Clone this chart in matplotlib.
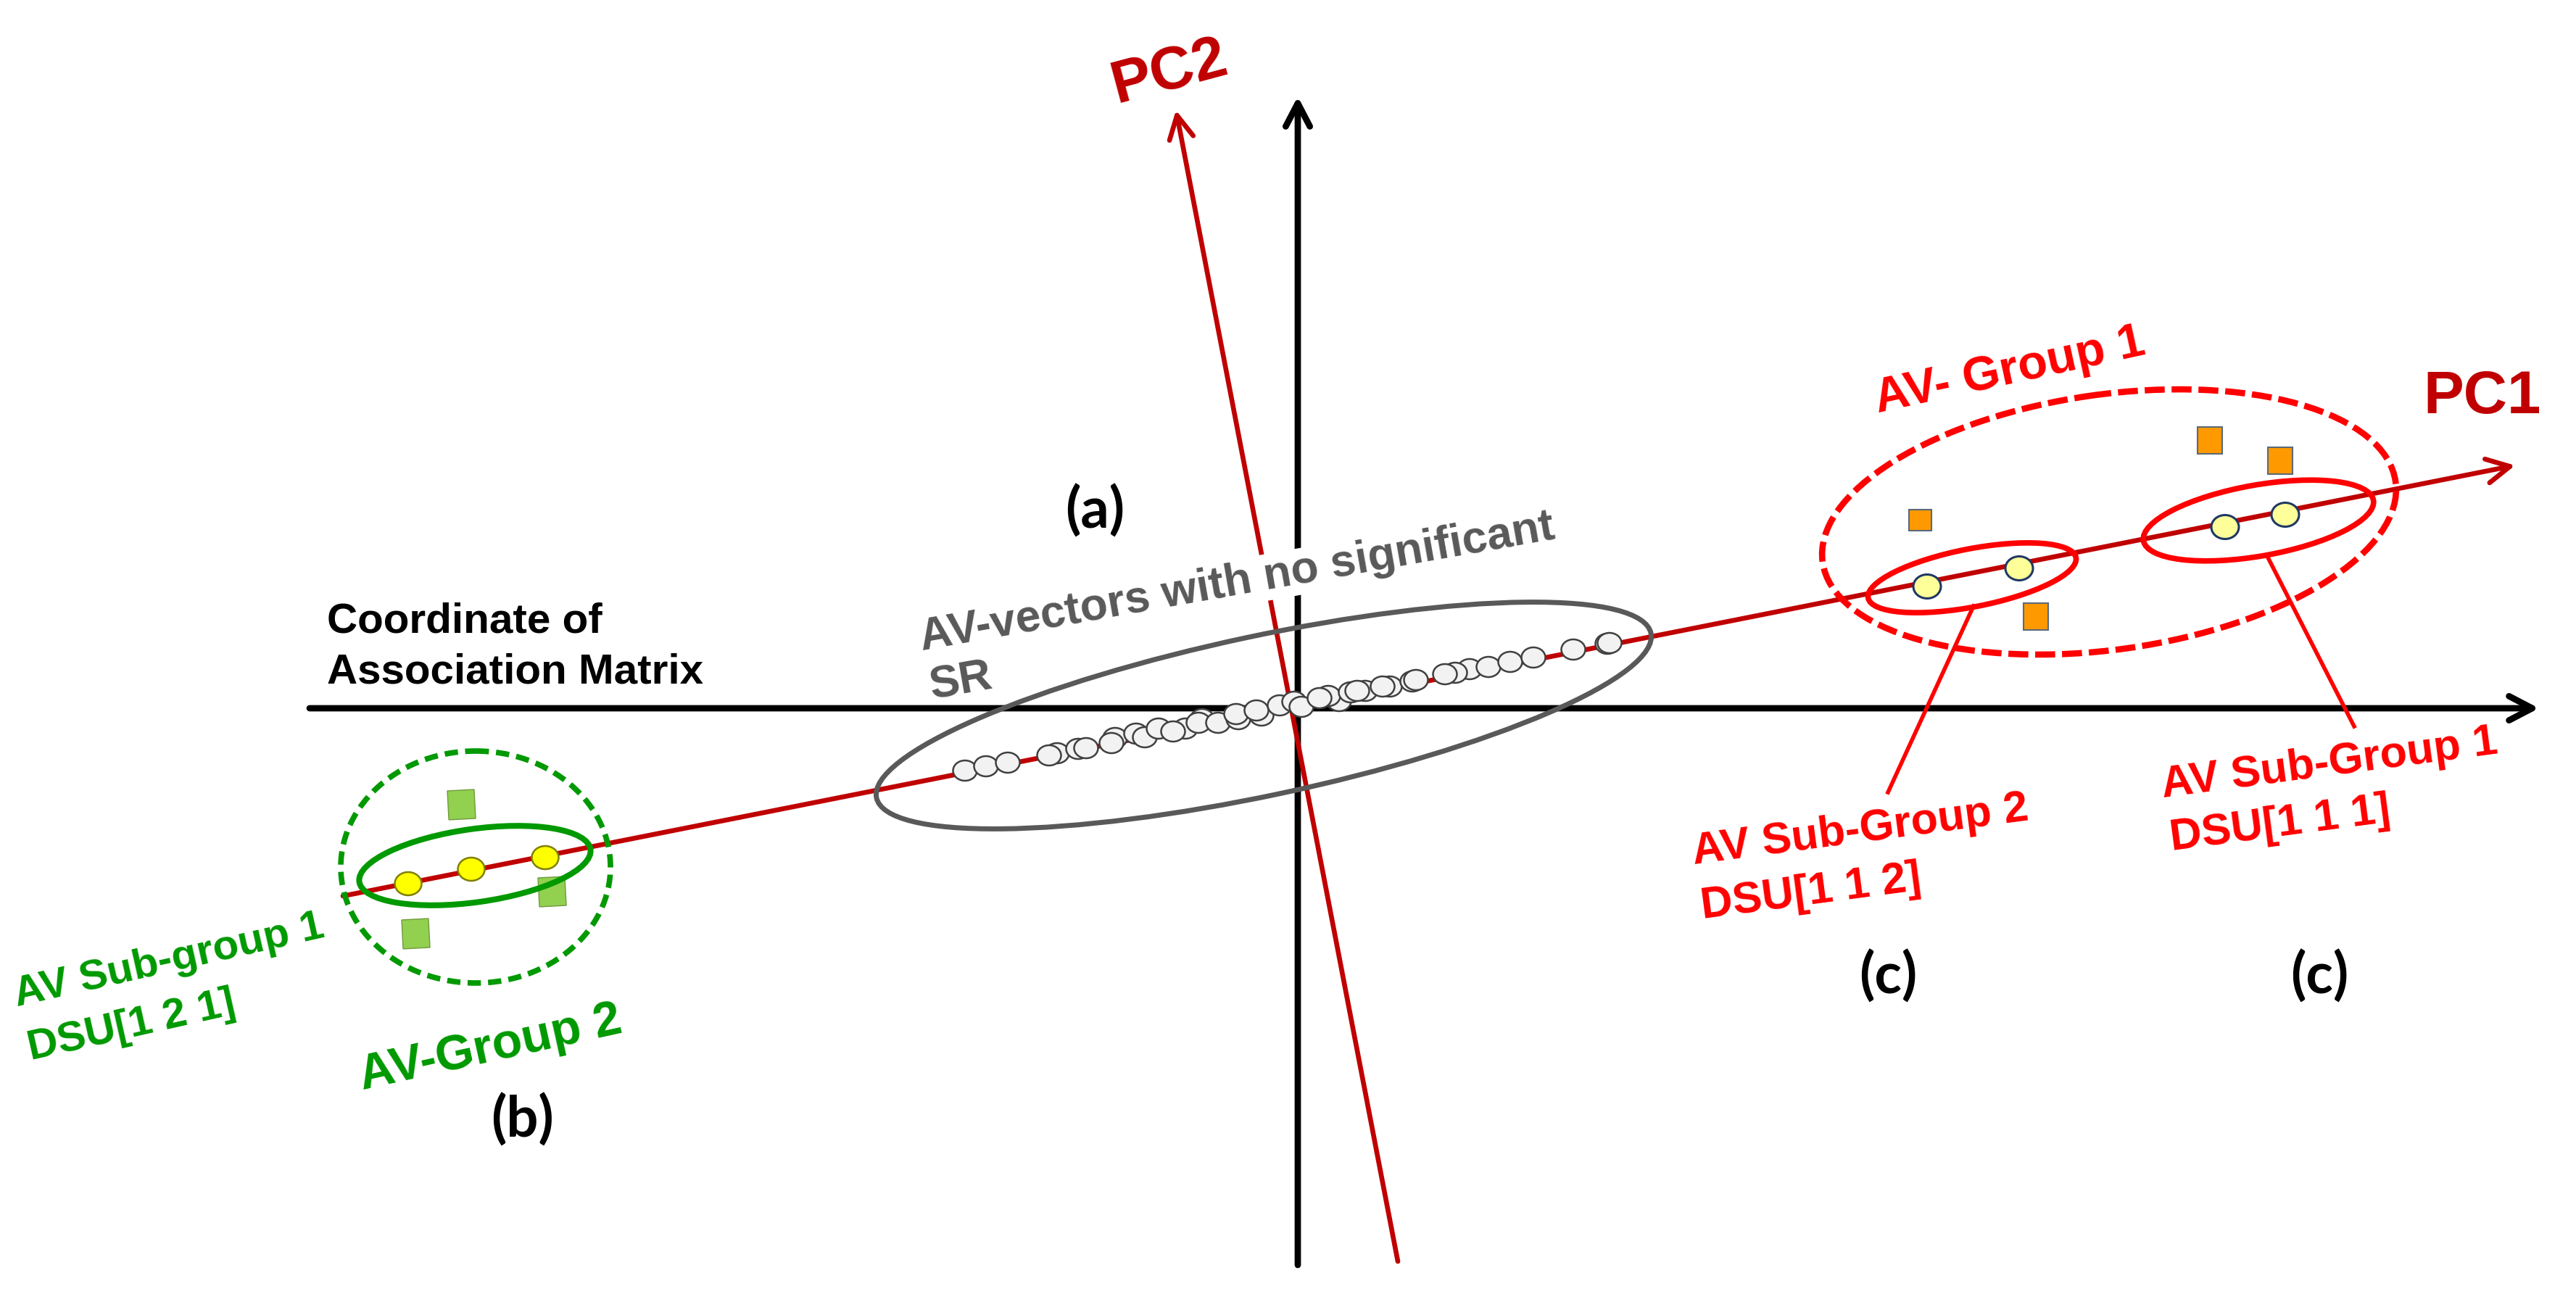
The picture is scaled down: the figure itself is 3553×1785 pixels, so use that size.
import matplotlib
matplotlib.use("Agg")
import matplotlib.pyplot as plt
from matplotlib.patches import Ellipse, Rectangle, FancyArrowPatch

# --- data (pixel frame of the 3553x1785 picture) ---
W, H = 3553, 1785

# axes of the association-matrix frame
xaxis = [(427, 977), (3502, 977)]
yaxis = [(1790, 1745), (1790, 133)]
# principal components
pc1 = [(473, 1236), (3469, 642)]
pc2 = [(1928, 1740), (1622, 152)]

# AV-vectors with no significant SR (white dots on PC1)
neutral_x = [1331, 1360, 1390, 1458, 1447, 1487, 1498, 1538, 1533, 1567, 1579,
             1598, 1635, 1618, 1658, 1653, 1680, 1708, 1705, 1740, 1733, 1765,
             1785, 1795, 1847, 1832, 1820, 1863, 1883, 1872, 1917, 1907, 1948,
             1953, 2027, 2007, 1993, 2053, 2083, 2115, 2170, 2217, 2220]
neutral_y = [1063, 1057, 1052, 1039, 1042, 1033, 1032, 1018, 1025, 1012, 1017,
             1005, 1005, 1009, 992, 997, 997, 992, 985, 987, 980, 973,
             968, 975, 967, 960, 963, 955, 953, 953, 947, 947, 940,
             938, 923, 928, 930, 920, 913, 907, 896, 888, 887]

# AV-Group 2 (green)
g2_dots_x = [563, 650, 752]
g2_dots_y = [1219, 1199, 1183]
g2_sq_x = [636, 761, 573]
g2_sq_y = [1110, 1230, 1288]

# AV-Group 1 (red)
g1_dots_x = [2658, 2785, 3069, 3152]
g1_dots_y = [809, 784, 727, 710]
g1_sq_x = [2648, 3048, 3145, 2808]
g1_sq_y = [717, 607, 635, 850]

# group outlines: centre x, centre y, width, height, tilt (deg)
outlines = {
    "neutral": (1743, 987, 1092, 220, 12),
    "g2": (656, 1196, 372, 320, 0),
    "g2_sub1": (655, 1194, 322, 101, 8),
    "g1": (2909, 720, 798, 352, 8),
    "g1_sub2": (2720, 797, 292, 80, 11),
    "g1_sub1": (3115, 718, 322, 98, 10),
}
callouts = [[(2722, 836), (2604, 1093)], [(3127, 767), (3247, 1002)]]

DARKRED = "#C00000"
RED = "#FF0000"
GREEN = "#009900"
GRAY = "#595959"

fig = plt.figure(figsize=(W / 100, H / 100), dpi=100)
ax = fig.add_axes([0, 0, 1, 1])
ax.set_xlim(0, W)
ax.set_ylim(H, 0)
ax.axis("off")


def arrow(p, color, lw):
    a = FancyArrowPatch(p[0], p[1], arrowstyle="->,head_length=23,head_width=12",
                        mutation_scale=1, lw=lw, color=color, shrinkA=0, shrinkB=0,
                        capstyle="round", joinstyle="round", zorder=1)
    ax.add_patch(a)


arrow(xaxis, "black", 6.3)
arrow(yaxis, "black", 6.3)
arrow(pc1, DARKRED, 4.8)
arrow(pc2, DARKRED, 4.8)


def outline(key, color, lw, ls="-"):
    cx, cy, w, h, ang = outlines[key]
    ax.add_patch(Ellipse((cx, cy), w, h, angle=-ang, fill=False, ec=color,
                         lw=lw, ls=ls, zorder=4))


for seg in callouts:
    ax.plot([seg[0][0], seg[1][0]], [seg[0][1], seg[1][1]], color=RED, lw=4,
            zorder=3)

# dots
for x, y in zip(neutral_x, neutral_y):
    ax.add_patch(Ellipse((x, y), 33, 28, fc="#F2F2F2", ec="#404040", lw=1.8, zorder=3))
for x, y in zip(g2_dots_x, g2_dots_y):
    ax.add_patch(Ellipse((x, y), 37, 32, fc="#FFFF00", ec="#7F7F00", lw=1.8, zorder=3))
for x, y in zip(g1_dots_x, g1_dots_y):
    ax.add_patch(Ellipse((x, y), 38, 33, fc="#FFFF99", ec="#1F3864", lw=2.2, zorder=3))
for x, y in zip(g2_sq_x, g2_sq_y):
    ax.add_patch(Rectangle((x - 18, y - 20), 37, 40, angle=-3, rotation_point="center",
                           fc="#92D050", ec="#6F9A3B", lw=1, zorder=3))
for i, (x, y) in enumerate(zip(g1_sq_x, g1_sq_y)):
    w, h = (31, 29) if i == 0 else (34, 37)
    ax.add_patch(Rectangle((x - w / 2, y - h / 2), w, h, fc="#FF9900",
                           ec="#5A6A7A", lw=1.5, zorder=3))

outline("neutral", GRAY, 5)
outline("g2", GREEN, 5.5, (0, (2.4, 1.3)))
outline("g2_sub1", GREEN, 5.8)
outline("g1", RED, 6.2, (0, (3.2, 1.1)))
outline("g1_sub2", RED, 5.5)
outline("g1_sub1", RED, 5.5)

# --- text ---
bold = dict(family=["Liberation Sans", "DejaVu Sans"], weight="bold")
lbl = dict(family=["Lato", "DejaVu Sans"], weight="bold", fontsize=56, color="black",
           ha="center", va="center", zorder=6)


def rtext(x, y, s, rot, size, color, **kw):
    ax.text(x, y, s, rotation=rot, rotation_mode="anchor", ha="left",
            va="baseline", fontsize=size, color=color, zorder=6, **bold, **kw)


ax.text(1613, 100, "PC2", rotation=15, ha="center", va="center", fontsize=60,
        color=DARKRED, zorder=6, **bold)
ax.text(3424, 548, "PC1", ha="center", va="center", fontsize=60, color=DARKRED,
        zorder=6, **bold)

ax.text(1510, 705, "(a)", **lbl)
ax.text(721, 1545, "(b)", **lbl)
ax.text(2604, 1347, "(c)", **lbl)
ax.text(3199, 1347, "(c)", **lbl)

rtext(451, 872, "Coordinate of", 0, 42, "black")
rtext(451, 942, "Association Matrix", 0, 42, "black")

box = dict(facecolor="white", edgecolor="none", pad=2)
rtext(1272, 897, "AV-vectors with no significant", 10, 45, GRAY, bbox=box)
rtext(1285, 965, "SR", 10, 45, GRAY)

rtext(23, 1388, "AV Sub-group 1", 12.7, 42, GREEN)
rtext(42, 1462, "DSU[1 2 1]", 12.7, 42, GREEN)
rtext(500, 1503, "AV-Group 2", 12.4, 49, GREEN)

rtext(2590, 569, "AV- Group 1", 12.3, 48, RED)
rtext(2336, 1192, "AV Sub-Group 2", 7.5, 44, RED)
rtext(2348, 1267, "DSU[1 1 2]", 7.5, 44, RED)
rtext(2983, 1100, "AV Sub-Group 1", 7.5, 44, RED)
rtext(2995, 1173, "DSU[1 1 1]", 7.5, 44, RED)

fig.savefig("out.png", dpi=100, facecolor="white")
